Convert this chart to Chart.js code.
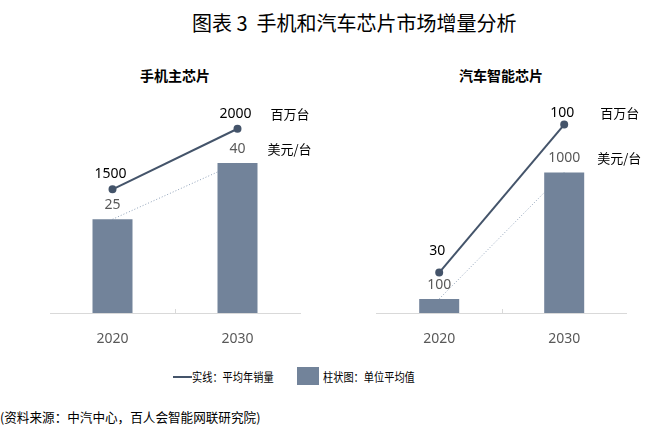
<!DOCTYPE html>
<html>
<head>
<meta charset="utf-8">
<script src="https://cdn.jsdelivr.net/npm/chart.js@4.4.0/dist/chart.umd.min.js"></script>
<style>
  html, body { margin: 0; padding: 0; background: #fff; }
  #wrap { position: relative; width: 661px; height: 430px; overflow: hidden;
    font-family: "Noto Sans CJK SC", "Noto Sans", sans-serif; color: #000; }
  .abs { position: absolute; white-space: nowrap; line-height: 1; }
  #title { left: 192px; top: 13px; font-size: 20px; }
  .sub { top: 68px; width: 200px; text-align: center; font-size: 14px; font-weight: bold; }
  #c1 { position: absolute; left: 0; top: 0; }
  #c2 { position: absolute; left: 330px; top: 0; }
  .legtxt { top: 371px; font-size: 12px; transform: scaleX(0.85); transform-origin: left center; }
  #source { left: 0; top: 411px; font-size: 12.6px; }
</style>
</head>
<body>
<div id="wrap">
  <div class="abs" id="title">图表 3&nbsp; 手机和汽车芯片市场增量分析</div>
  <div class="abs sub" style="left:75px">手机主芯片</div>
  <div class="abs sub" style="left:401px">汽车智能芯片</div>
  <canvas id="c1" width="330" height="345"></canvas>
  <canvas id="c2" width="331" height="345"></canvas>
  <div class="abs" style="left:173px; top:376px; width:19px; height:2px; background:#44546A"></div>
  <div class="abs legtxt" style="left:192px">实线：平均年销量</div>
  <div class="abs" style="left:297px; top:367px; width:22px; height:18px; background:#72839A"></div>
  <div class="abs legtxt" style="left:323px">柱状图：单位平均值</div>
  <div class="abs" id="source">(资料来源：中汽中心，百人会智能网联研究院)</div>
</div>
<script>
const years = ['2020', '2030'];
const units = ['百万台', '美元/台'];

// 手机主芯片
const phonePrice = [25, 40];      // 美元/台 (bars)
const phoneSales = [1500, 2000];  // 百万台 (line)

// 汽车智能芯片
const carPrice = [100, 1000];
const carSales = [30, 100];

const barColor = '#72839A';
const lineColor = '#44546A';

const labelPlugin = {
  id: 'valueLabels',
  afterDatasetsDraw(chart, args, opts) {
    const ctx = chart.ctx;
    const bars = chart.getDatasetMeta(0).data;
    const pts = chart.getDatasetMeta(2).data;
    const barVals = chart.data.datasets[0].data;
    const lineVals = chart.data.datasets[2].data;
    ctx.save();
    ctx.font = '14px "Noto Sans", sans-serif';
    ctx.textAlign = 'center';
    ctx.textBaseline = 'middle';
    bars.forEach((el, i) => {
      ctx.fillStyle = '#595959';
      ctx.fillText(String(barVals[i]), el.x, el.y - 14);
    });
    pts.forEach((el, i) => {
      ctx.fillStyle = '#000';
      ctx.fillText(String(lineVals[i]), el.x - 2, el.y - opts.lineOffsets[i]);
    });
    // unit labels next to the last category
    const lastBar = bars[bars.length - 1];
    const lastPt = pts[pts.length - 1];
    ctx.textAlign = 'left';
    ctx.font = '13px "Noto Sans CJK SC", sans-serif';
    ctx.fillStyle = '#000';
    ctx.fillText(units[0], lastBar.x + opts.unitDx, lastPt.y - opts.lineOffsets[1]);
    ctx.fillText(units[1], lastBar.x + opts.unitDx - 3, lastBar.y - 14);
    // small tick between categories
    const xs = chart.scales.x;
    const mid = (xs.getPixelForValue(0) + xs.getPixelForValue(1)) / 2;
    ctx.strokeStyle = '#D9D9D9';
    ctx.lineWidth = 1;
    ctx.beginPath();
    ctx.moveTo(Math.round(mid) + 0.5, chart.chartArea.bottom - 4);
    ctx.lineTo(Math.round(mid) + 0.5, chart.chartArea.bottom);
    ctx.stroke();
    ctx.restore();
  }
};

function makeChart(id, prices, sales, yMax, y2Min, y2Max, pad, lineOffsets, unitDx) {
  return new Chart(document.getElementById(id), {
    type: 'bar',
    data: {
      labels: years,
      datasets: [
        {
          type: 'bar',
          data: prices,
          backgroundColor: barColor,
          categoryPercentage: 1,
          barPercentage: 0.32,
          yAxisID: 'y',
          order: 1
        },
        {
          type: 'line',
          data: prices,
          borderColor: '#8FA1B8',
          borderWidth: 1,
          borderDash: [1, 2],
          pointRadius: 0,
          yAxisID: 'y',
          order: 2
        },
        {
          type: 'line',
          data: sales,
          borderColor: lineColor,
          backgroundColor: lineColor,
          borderWidth: 2,
          pointRadius: 3,
          yAxisID: 'y2',
          order: 0
        }
      ]
    },
    options: {
      responsive: false,
      animation: false,
      layout: { padding: pad },
      plugins: {
        legend: { display: false },
        tooltip: { enabled: false },
        valueLabels: { lineOffsets: lineOffsets, unitDx: unitDx }
      },
      scales: {
        x: {
          offset: true,
          grid: { display: false },
          border: { display: true, color: '#D9D9D9', width: 1 },
          ticks: { color: '#595959', padding: 10, font: { family: '"Noto Sans", sans-serif', size: 14 } },
          afterFit(scale) { scale.height = 32; }
        },
        y: { display: false, min: 0, max: yMax },
        y2: { display: false, position: 'right', min: y2Min, max: y2Max }
      }
    },
    plugins: [labelPlugin]
  });
}

makeChart('c1', phonePrice, phoneSales, 60, 480, 2336,
  { top: 88, left: 50, right: 30, bottom: 0 }, [15, 15], 33);
makeChart('c2', carPrice, carSales, 1600, 10.9, 117.3,
  { top: 88, left: 46.7, right: 34.3, bottom: 0 }, [22, 12], 36);
</script>
</body>
</html>
